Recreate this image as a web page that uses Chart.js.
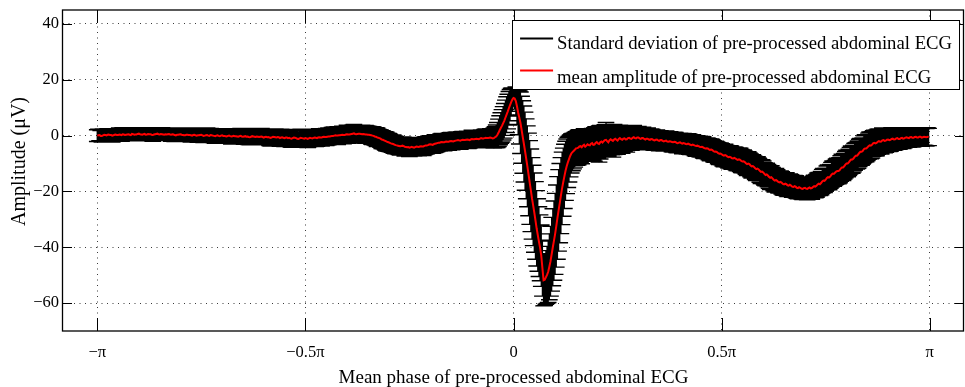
<!DOCTYPE html>
<html>
<head>
<meta charset="utf-8">
<script src="https://cdn.jsdelivr.net/npm/chart.js@4.4.1/dist/chart.umd.min.js"></script>
<style>
  html, body { margin: 0; padding: 0; background: #fff; }
  #wrap { width: 965px; height: 387px; position: relative; }
</style>
</head>
<body>
<div id="wrap"><canvas id="ecg" width="965" height="387"></canvas></div>
<script>
// Phase bins: half-degree steps from -180 to 179.5
const phaseDeg = Array.from({ length: 720 }, (_, i) => -180 + i * 0.5);

// Mean amplitude of the pre-processed abdominal ECG per phase bin (µV), 10 degrees per row
const meanAmp = [
  0.0, 0.1, 0.2, -0.1, -0.1, 0.1, 0.3, 0.2, 0.1, 0.3, 0.4, 0.2, 0.2, 0.0, 0.1, 0.3, 0.4, 0.2, 0.2, 0.4,
  0.3, 0.2, 0.5, 0.4, 0.2, 0.3, 0.4, 0.5, 0.3, 0.2, 0.6, 0.5, 0.3, 0.4, 0.4, 0.6, 0.7, 0.5, 0.4, 0.3,
  0.5, 0.6, 0.3, 0.4, 0.6, 0.5, 0.5, 0.3, 0.2, 0.4, 0.5, 0.6, 0.7, 0.5, 0.4, 0.6, 0.5, 0.4, 0.3, 0.5,
  0.4, 0.5, 0.6, 0.4, 0.3, 0.5, 0.4, 0.2, 0.1, 0.3, 0.3, 0.4, 0.5, 0.3, 0.2, 0.1, 0.1, 0.3, 0.3, 0.2,
  0.2, 0.1, 0.0, 0.2, 0.3, 0.1, 0.0, 0.1, 0.1, 0.2, 0.3, 0.1, -0.1, 0.0, 0.1, 0.2, 0.0, -0.1, 0.2, 0.1,
  0.0, -0.1, -0.2, 0.0, 0.1, -0.1, -0.2, 0.0, 0.1, -0.1, -0.1, -0.2, -0.3, -0.1, 0.0, -0.2, -0.3, -0.2, -0.1, -0.2,
  -0.2, -0.3, -0.4, -0.2, -0.1, -0.3, -0.4, -0.3, -0.2, -0.4, -0.3, -0.5, -0.6, -0.4, -0.2, -0.3, -0.4, -0.5, -0.3, -0.4,
  -0.5, -0.4, -0.3, -0.5, -0.7, -0.5, -0.4, -0.6, -0.5, -0.7, -0.8, -0.6, -0.4, -0.5, -0.6, -0.7, -0.5, -0.6, -0.9, -0.7,
  -0.6, -0.8, -0.9, -0.7, -0.7, -0.9, -0.8, -1.0, -1.1, -0.9, -0.7, -0.8, -0.9, -1.1, -1.2, -1.0, -0.8, -0.9, -1.0, -1.1,
  -0.9, -1.0, -1.2, -1.0, -0.8, -0.9, -1.0, -0.8, -0.7, -0.8, -0.9, -0.7, -0.6, -0.7, -0.7, -0.5, -0.4, -0.5, -0.5, -0.4,
  -0.3, -0.3, -0.2, -0.1, -0.1, 0.0, 0.1, 0.0, 0.0, 0.1, 0.1, 0.2, 0.3, 0.2, 0.2, 0.4, 0.5, 0.4, 0.4, 0.5,
  0.6, 0.7, 0.8, 0.6, 0.5, 0.6, 0.7, 0.7, 0.6, 0.5, 0.6, 0.5, 0.4, 0.4, 0.3, 0.3, 0.2, 0.1, 0.0, -0.1,
  -0.3, -0.4, -0.6, -0.8, -0.9, -1.1, -1.4, -1.5, -1.7, -1.9, -2.1, -2.3, -2.4, -2.6, -2.8, -2.9, -3.0, -3.2, -3.4, -3.5,
  -3.6, -3.7, -3.8, -3.7, -3.6, -3.8, -4.0, -4.1, -4.2, -4.1, -4.3, -4.2, -4.0, -4.2, -4.3, -4.1, -3.9, -4.0, -4.1, -3.9,
  -3.8, -3.9, -3.9, -3.7, -3.5, -3.5, -3.4, -3.2, -3.1, -3.2, -3.3, -3.1, -2.9, -2.8, -2.7, -2.6, -2.6, -2.4, -2.3, -2.4,
  -2.4, -2.2, -2.1, -2.2, -2.2, -2.0, -1.9, -2.0, -2.1, -1.9, -1.8, -1.7, -1.6, -1.7, -1.8, -1.6, -1.5, -1.6, -1.6, -1.5,
  -1.4, -1.5, -1.6, -1.4, -1.2, -1.3, -1.3, -1.2, -1.1, -1.2, -1.3, -1.1, -0.9, -1.0, -1.0, -0.9, -0.8, -0.9, -0.9, -0.8,
  -0.7, -0.8, -1.0, -0.9, -0.6, -0.3, 0.2, 1.0, 1.9, 2.7, 3.5, 4.4, 5.3, 6.4, 7.5, 8.6, 9.8, 10.9, 12.0, 12.9,
  13.5, 13.3, 12.4, 10.5, 8.3, 6.5, 4.6, 2.1, -0.5, -3.0, -5.6, -8.3, -11.0, -13.9, -16.8, -19.6, -22.5, -25.0, -27.6, -30.4,
  -33.2, -35.6, -38.0, -40.2, -43.0, -47.5, -51.8, -51.6, -50.8, -49.9, -48.8, -47.0, -45.0, -42.5, -40.0, -37.6, -35.2, -32.4, -29.5, -26.8,
  -24.2, -21.5, -18.9, -16.7, -14.6, -12.6, -11.0, -9.6, -8.4, -7.3, -6.4, -5.9, -5.5, -5.1, -4.6, -4.5, -4.3, -3.9, -3.8, -4.2,
  -3.6, -3.3, -4.0, -3.6, -3.1, -3.4, -3.5, -2.9, -2.7, -3.3, -3.2, -2.6, -2.3, -2.8, -3.0, -2.4, -2.1, -2.5, -2.0, -1.6,
  -1.5, -2.0, -2.4, -1.7, -1.3, -1.6, -1.9, -1.4, -1.1, -1.5, -1.8, -1.2, -0.9, -1.3, -1.5, -1.1, -1.0, -1.4, -1.3, -0.9,
  -0.8, -1.1, -1.2, -0.8, -0.6, -0.9, -1.0, -0.7, -0.7, -1.0, -1.2, -0.9, -0.9, -1.2, -1.4, -1.1, -1.1, -1.4, -1.5, -1.2,
  -1.3, -1.6, -1.7, -1.5, -1.4, -1.7, -1.9, -1.6, -1.6, -1.9, -2.1, -1.9, -1.8, -2.1, -2.2, -2.0, -2.1, -2.3, -2.4, -2.2,
  -2.3, -2.6, -2.7, -2.5, -2.4, -2.7, -2.9, -2.7, -2.8, -3.0, -3.1, -2.9, -3.1, -3.3, -3.4, -3.2, -3.4, -3.6, -3.7, -3.6,
  -3.8, -4.0, -4.1, -4.0, -4.2, -4.5, -4.6, -4.5, -4.6, -4.9, -5.1, -5.0, -5.2, -5.6, -5.8, -5.7, -5.9, -6.3, -6.5, -6.4,
  -6.7, -7.0, -7.2, -7.0, -7.2, -7.5, -7.7, -7.6, -7.8, -8.1, -8.2, -8.0, -8.2, -8.5, -8.7, -8.5, -8.7, -9.1, -9.3, -9.2,
  -9.5, -9.9, -10.2, -10.0, -10.2, -10.7, -11.0, -10.9, -11.2, -11.7, -12.0, -11.8, -12.1, -12.6, -13.0, -12.9, -13.2, -13.7, -14.1, -13.9,
  -14.3, -14.8, -15.1, -14.9, -15.3, -15.8, -16.1, -15.9, -16.2, -16.6, -16.8, -16.6, -16.9, -17.3, -17.5, -17.2, -17.4, -17.8, -17.9, -17.6,
  -17.9, -18.3, -18.4, -18.1, -18.3, -18.7, -18.8, -18.5, -18.7, -19.0, -19.1, -18.8, -18.7, -19.0, -19.1, -18.8, -18.6, -18.9, -18.8, -18.4,
  -18.1, -18.3, -18.0, -17.5, -17.2, -17.4, -17.0, -16.4, -16.1, -16.2, -15.8, -15.2, -14.9, -15.0, -14.6, -14.0, -13.6, -13.7, -13.3, -12.9,
  -12.7, -12.7, -12.4, -11.8, -11.4, -11.4, -11.0, -10.4, -10.0, -10.0, -9.6, -9.0, -8.6, -8.6, -8.2, -7.6, -7.2, -7.2, -6.8, -6.2,
  -5.8, -5.8, -5.5, -4.9, -4.6, -4.6, -4.3, -3.8, -3.5, -3.6, -3.3, -2.8, -2.6, -2.8, -2.6, -2.2, -2.0, -2.2, -2.1, -1.7,
  -1.6, -1.9, -1.8, -1.5, -1.4, -1.6, -1.5, -1.2, -1.1, -1.4, -1.3, -1.0, -0.9, -1.2, -1.2, -0.9, -0.8, -1.1, -1.0, -0.7,
  -0.6, -0.8, -0.9, -0.6, -0.5, -0.8, -0.8, -0.5, -0.4, -0.7, -0.7, -0.4, -0.4, -0.7, -0.6, -0.4, -0.5, -0.6, -0.4, -0.5
];

// Standard deviation per phase bin (µV), 10 degrees per row
const stdAmp = [
  2.1, 2.2, 2.0, 1.9, 2.2, 2.3, 2.1, 2.0, 2.3, 2.2, 2.0, 2.1, 2.2, 2.3, 2.1, 2.0, 2.1, 2.2, 2.0, 2.3,
  2.1, 2.2, 2.3, 2.1, 2.0, 2.2, 2.1, 2.3, 2.2, 2.0, 2.2, 2.1, 2.0, 2.2, 2.3, 2.1, 2.1, 2.3, 2.2, 2.0,
  2.0, 2.1, 2.2, 2.3, 2.1, 2.0, 2.3, 2.2, 2.2, 2.1, 2.0, 2.2, 2.1, 2.3, 2.2, 2.1, 2.3, 2.2, 2.1, 2.2,
  2.2, 2.1, 2.0, 2.2, 2.3, 2.2, 2.1, 2.3, 2.2, 2.4, 2.4, 2.2, 2.1, 2.3, 2.3, 2.2, 2.2, 2.4, 2.4, 2.3,
  2.3, 2.4, 2.2, 2.3, 2.4, 2.2, 2.3, 2.5, 2.5, 2.3, 2.2, 2.4, 2.4, 2.3, 2.3, 2.5, 2.5, 2.4, 2.4, 2.3,
  2.4, 2.5, 2.6, 2.4, 2.3, 2.5, 2.5, 2.4, 2.4, 2.6, 2.6, 2.5, 2.5, 2.4, 2.4, 2.6, 2.7, 2.5, 2.5, 2.6,
  2.6, 2.5, 2.5, 2.7, 2.7, 2.6, 2.6, 2.8, 2.8, 2.6, 2.5, 2.7, 2.7, 2.6, 2.6, 2.8, 2.8, 2.7, 2.7, 2.6,
  2.7, 2.8, 2.9, 2.7, 2.6, 2.8, 2.8, 2.7, 2.7, 2.9, 2.9, 2.8, 2.8, 2.9, 3.0, 2.8, 2.7, 2.8, 2.9, 3.0,
  2.8, 2.9, 3.0, 2.9, 2.9, 2.8, 2.8, 3.0, 3.1, 3.0, 2.9, 3.0, 3.0, 2.9, 2.8, 2.9, 3.1, 3.2, 3.0, 2.9,
  2.9, 3.0, 3.1, 3.0, 3.0, 2.9, 2.8, 2.9, 3.0, 3.1, 2.9, 3.0, 3.1, 3.0, 3.0, 2.9, 2.9, 3.0, 3.1, 3.0,
  3.0, 2.9, 2.9, 3.0, 3.1, 3.1, 3.0, 3.1, 3.2, 3.0, 2.9, 3.0, 3.1, 3.1, 3.0, 3.0, 3.2, 3.2, 3.1, 3.0,
  3.0, 3.1, 3.2, 3.1, 3.1, 3.0, 2.9, 3.0, 3.1, 3.2, 3.0, 3.0, 3.2, 3.1, 3.1, 3.0, 3.0, 3.1, 3.2, 3.1,
  3.1, 3.2, 3.3, 3.1, 3.0, 3.1, 3.2, 3.2, 3.1, 3.3, 3.3, 3.2, 3.2, 3.1, 3.0, 3.1, 3.2, 3.1, 3.1, 3.0,
  3.0, 3.1, 3.2, 3.1, 3.1, 3.2, 3.3, 3.2, 3.0, 3.1, 3.2, 3.1, 3.1, 3.0, 3.0, 3.1, 3.2, 3.2, 3.1, 3.0,
  3.0, 3.1, 3.2, 3.1, 3.1, 3.0, 2.9, 3.0, 3.1, 3.1, 3.0, 3.1, 3.2, 3.1, 3.0, 2.9, 2.9, 3.0, 3.1, 3.0,
  3.0, 3.0, 2.9, 2.9, 3.1, 3.0, 3.0, 3.1, 2.8, 2.9, 3.0, 3.0, 2.9, 3.0, 3.1, 3.0, 3.0, 2.9, 2.9, 3.0,
  3.0, 3.1, 2.9, 3.0, 3.1, 3.0, 2.9, 3.0, 3.0, 3.1, 3.1, 3.0, 2.9, 3.0, 3.0, 3.1, 3.2, 3.1, 3.1, 3.2,
  3.2, 3.3, 3.4, 3.6, 3.8, 4.1, 4.5, 4.9, 5.2, 5.5, 5.8, 6.0, 6.2, 6.3, 6.4, 6.2, 6.0, 5.6, 5.0, 4.2,
  3.2, 3.8, 5.0, 6.5, 8.0, 9.5, 11.0, 12.0, 13.0, 13.6, 14.0, 14.3, 14.5, 14.8, 15.0, 14.8, 14.6, 14.4, 14.2, 13.9,
  13.5, 13.0, 12.5, 11.8, 11.0, 10.0, 9.2, 9.3, 9.6, 10.2, 11.0, 11.8, 12.5, 13.2, 13.8, 14.2, 14.5, 14.7, 14.8, 14.6,
  14.2, 13.6, 13.0, 12.2, 11.5, 10.6, 9.8, 9.0, 8.2, 7.5, 7.0, 6.7, 6.4, 6.2, 6.0, 6.1, 6.2, 6.0, 5.8, 5.9,
  5.6, 5.8, 5.2, 5.4, 5.5, 5.7, 5.0, 5.2, 5.3, 5.6, 6.0, 5.8, 5.1, 5.4, 6.5, 6.0, 4.9, 5.1, 5.2, 5.5,
  6.2, 5.7, 4.8, 5.0, 5.0, 5.3, 5.8, 5.4, 4.7, 4.8, 4.9, 4.7, 4.6, 4.8, 4.8, 4.6, 4.4, 4.5, 4.6, 4.4,
  4.3, 4.2, 4.1, 4.3, 4.2, 4.0, 3.9, 4.0, 4.0, 3.9, 3.8, 3.9, 3.9, 3.7, 3.7, 3.8, 3.8, 3.7, 3.6, 3.6,
  3.5, 3.6, 3.6, 3.5, 3.4, 3.5, 3.5, 3.4, 3.3, 3.4, 3.4, 3.5, 3.5, 3.4, 3.3, 3.4, 3.4, 3.5, 3.5, 3.4,
  3.4, 3.5, 3.5, 3.4, 3.3, 3.4, 3.6, 3.5, 3.4, 3.5, 3.5, 3.6, 3.6, 3.5, 3.4, 3.5, 3.5, 3.6, 3.7, 3.6,
  3.5, 3.6, 3.6, 3.7, 3.8, 3.7, 3.6, 3.7, 3.7, 3.8, 3.9, 3.8, 3.7, 3.8, 3.8, 3.7, 3.6, 3.8, 3.9, 3.8,
  3.8, 3.9, 4.0, 3.9, 3.7, 3.8, 3.9, 4.0, 4.1, 4.0, 3.8, 3.9, 4.0, 4.0, 3.9, 4.1, 4.2, 4.1, 4.0, 4.1,
  3.9, 4.0, 4.1, 4.2, 4.0, 4.1, 4.2, 4.1, 3.9, 4.0, 4.1, 4.2, 4.0, 4.1, 4.2, 4.3, 4.1, 4.0, 3.9, 4.0,
  4.0, 4.1, 4.2, 4.1, 3.9, 4.0, 4.1, 4.1, 4.0, 3.9, 3.8, 3.9, 4.0, 4.0, 3.9, 3.8, 4.1, 4.0, 3.8, 3.9,
  3.9, 3.8, 3.7, 3.8, 3.9, 3.8, 3.8, 3.7, 3.6, 3.7, 3.8, 3.8, 3.7, 3.8, 3.9, 3.9, 3.8, 3.9, 4.0, 3.9,
  3.9, 4.0, 4.1, 4.1, 4.0, 4.1, 4.2, 4.3, 4.3, 4.2, 4.1, 4.3, 4.4, 4.4, 4.3, 4.4, 4.5, 4.5, 4.4, 4.5,
  4.6, 4.6, 4.5, 4.6, 4.7, 4.7, 4.6, 4.7, 4.8, 4.8, 4.7, 4.8, 4.9, 4.9, 4.8, 4.8, 4.7, 4.8, 4.9, 4.9,
  4.8, 4.8, 4.7, 4.8, 4.9, 4.8, 4.6, 4.7, 4.8, 4.7, 4.7, 4.6, 4.5, 4.5, 4.6, 4.5, 4.4, 4.4, 4.5, 4.4,
  4.3, 4.3, 4.2, 4.1, 4.0, 4.1, 4.1, 4.0, 3.9, 3.9, 3.8, 3.8, 3.7, 3.7, 3.6, 3.6, 3.5, 3.5, 3.4, 3.4,
  3.4, 3.3, 3.3, 3.2, 3.2, 3.3, 3.1, 3.2, 3.2, 3.1, 3.1, 3.2, 3.0, 3.1, 3.1, 3.0, 3.0, 3.1, 3.2, 3.1
];

// Axis ticks
const xTickValues = [-Math.PI, -0.5 * Math.PI, 0, 0.5 * Math.PI, Math.PI];
const xTickLabels = ['\u2212\u03c0', '\u22120.5\u03c0', '0', '0.5\u03c0', '\u03c0'];
const yTickValues = [-60, -40, -20, 0, 20, 40];

const seriesLabels = [
  'Standard deviation of pre-processed abdominal ECG',
  'mean amplitude of pre-processed abdominal ECG'
];
const xTitle = 'Mean phase of pre-processed abdominal ECG';
const yTitle = 'Amplitude (\u03bcV)';

const SERIF = "'Liberation Serif', 'Times New Roman', serif";

const n = Math.min(phaseDeg.length, meanAmp.length, stdAmp.length);
const meanPoints = [];
for (let i = 0; i < n; i++) {
  meanPoints.push({ x: phaseDeg[i] * Math.PI / 180, y: meanAmp[i] });
}

// Vertical error bars with end caps, drawn under the mean trace
const errorBarPlugin = {
  id: 'errorBars',
  beforeDatasetsDraw(chart) {
    const { ctx, chartArea: a, scales: { x, y } } = chart;
    chart.data.datasets.forEach(ds => {
      if (!ds.errorValues) return;
      const capHalf = ds.capHalfWidth;
      ctx.save();
      ctx.beginPath();
      ctx.rect(a.left, a.top, a.right - a.left, a.bottom - a.top);
      ctx.clip();
      ctx.strokeStyle = ds.borderColor;
      ctx.lineCap = 'butt';
      ctx.lineWidth = ds.barLineWidth;
      ctx.beginPath();
      ds.data.forEach((p, i) => {
        const e = ds.errorValues[i];
        const px = x.getPixelForValue(p.x);
        ctx.moveTo(px, y.getPixelForValue(p.y + e));
        ctx.lineTo(px, y.getPixelForValue(p.y - e));
      });
      ctx.stroke();
      ctx.lineWidth = ds.capLineWidth;
      ctx.beginPath();
      ds.data.forEach((p, i) => {
        const e = ds.errorValues[i];
        const l = x.getPixelForValue(p.x - capHalf);
        const r = x.getPixelForValue(p.x + capHalf);
        [p.y + e, p.y - e].forEach(v => {
          const py = y.getPixelForValue(v);
          ctx.moveTo(l, py);
          ctx.lineTo(r, py);
        });
      });
      ctx.stroke();
      ctx.restore();
    });
  }
};

// Axes box with inward tick marks on all four sides, plus the rotated y title
const framePlugin = {
  id: 'frame',
  afterDatasetsDraw(chart) {
    const { ctx, chartArea: a, scales: { x, y } } = chart;
    ctx.save();
    ctx.strokeStyle = '#000';
    ctx.lineWidth = 1.3;
    ctx.strokeRect(a.left - 0.5, a.top, a.right - a.left, a.bottom - a.top);
    ctx.lineWidth = 1;
    ctx.beginPath();
    x.ticks.forEach(t => {
      const px = Math.round(x.getPixelForValue(t.value)) + 0.5;
      ctx.moveTo(px, a.bottom); ctx.lineTo(px, a.bottom - 13);
      ctx.moveTo(px, a.top); ctx.lineTo(px, a.top + 13);
    });
    y.ticks.forEach(t => {
      const py = Math.round(y.getPixelForValue(t.value)) + 0.5;
      ctx.moveTo(a.left, py); ctx.lineTo(a.left + 9, py);
      ctx.moveTo(a.right, py); ctx.lineTo(a.right - 9, py);
    });
    ctx.stroke();

    ctx.translate(a.left - 43, (a.top + a.bottom) / 2 - 9);
    ctx.rotate(-Math.PI / 2);
    ctx.fillStyle = '#000';
    ctx.font = '20px ' + SERIF;
    ctx.textAlign = 'center';
    ctx.textBaseline = 'middle';
    ctx.fillText(yTitle, 0, 0);
    ctx.restore();
  }
};

// Boxed legend in the upper right corner of the plot
const boxLegendPlugin = {
  id: 'boxLegend',
  afterDraw(chart) {
    const { ctx, chartArea: a } = chart;
    const ds = chart.data.datasets;
    ctx.save();
    ctx.font = '18.7px ' + SERIF;
    const textW = Math.max(...ds.map(d => ctx.measureText(d.label).width));
    const padL = 8, sample = 33, gap = 4, padR = 7;
    const w = padL + sample + gap + textW + padR;
    const right = a.right - 5, top = a.top + 10, h = 69;
    const left = right - w;
    ctx.fillStyle = '#fff';
    ctx.fillRect(left, top, w, h);
    ctx.strokeStyle = '#000';
    ctx.lineWidth = 1;
    ctx.strokeRect(Math.round(left) + 0.5, top + 0.5, Math.round(w), h);
    const rows = [{ line: 18.5, base: 28.5 }, { line: 50.5, base: 63 }];
    ds.forEach((d, i) => {
      const r = rows[i];
      ctx.strokeStyle = d.borderColor;
      ctx.lineWidth = 2;
      ctx.beginPath();
      ctx.moveTo(left + padL, top + r.line);
      ctx.lineTo(left + padL + sample, top + r.line);
      ctx.stroke();
      ctx.fillStyle = '#000';
      ctx.textBaseline = 'alphabetic';
      ctx.textAlign = 'left';
      ctx.fillText(d.label, left + padL + sample + gap, top + r.base);
    });
    ctx.restore();
  }
};

new Chart(document.getElementById('ecg').getContext('2d'), {
  type: 'line',
  data: {
    datasets: [
      {
        label: seriesLabels[0],
        data: meanPoints,
        errorValues: stdAmp,
        capHalfWidth: 2 * Math.PI / 100,
        barLineWidth: 1.3,
        capLineWidth: 1.4,
        showLine: false,
        pointRadius: 0,
        borderColor: '#000000',
        backgroundColor: '#000000'
      },
      {
        label: seriesLabels[1],
        data: meanPoints,
        borderColor: '#ff0000',
        backgroundColor: '#ff0000',
        borderWidth: 2,
        pointRadius: 0,
        tension: 0
      }
    ]
  },
  options: {
    responsive: false,
    animation: false,
    events: [],
    layout: { padding: { top: 10, right: 1, left: 0, bottom: 0 } },
    plugins: { legend: { display: false }, tooltip: { enabled: false } },
    scales: {
      x: {
        type: 'linear',
        min: -3.4,
        max: 3.4,
        afterBuildTicks: s => { s.ticks = xTickValues.map(v => ({ value: v })); },
        afterFit: s => { s.height = 56; s.paddingLeft = 0; s.paddingRight = 0; },
        ticks: {
          autoSkip: false,
          maxRotation: 0,
          padding: 12,
          color: '#000',
          font: { family: SERIF, size: 16.5 },
          callback: (v, i) => xTickLabels[i]
        },
        grid: { color: '#3a3a3a', lineWidth: 1, drawTicks: false },
        border: { display: false, dash: [1, 4.5] },
        title: {
          display: true,
          text: xTitle,
          color: '#000',
          font: { family: SERIF, size: 19 },
          padding: { top: 0, bottom: -2 }
        }
      },
      y: {
        type: 'linear',
        min: -70,
        max: 45,
        afterBuildTicks: s => { s.ticks = yTickValues.map(v => ({ value: v })); },
        afterFit: s => { s.width = 63; s.paddingTop = 0; s.paddingBottom = 0; },
        ticks: {
          padding: 4,
          color: '#000',
          font: { family: SERIF, size: 16.5 },
          callback: v => (v < 0 ? '\u2212' + Math.abs(v) : String(v))
        },
        grid: { color: '#3a3a3a', lineWidth: 1, drawTicks: false },
        border: { display: false, dash: [1, 4.5] },
        title: { display: false }
      }
    }
  },
  plugins: [errorBarPlugin, framePlugin, boxLegendPlugin]
});
</script>
</body>
</html>
